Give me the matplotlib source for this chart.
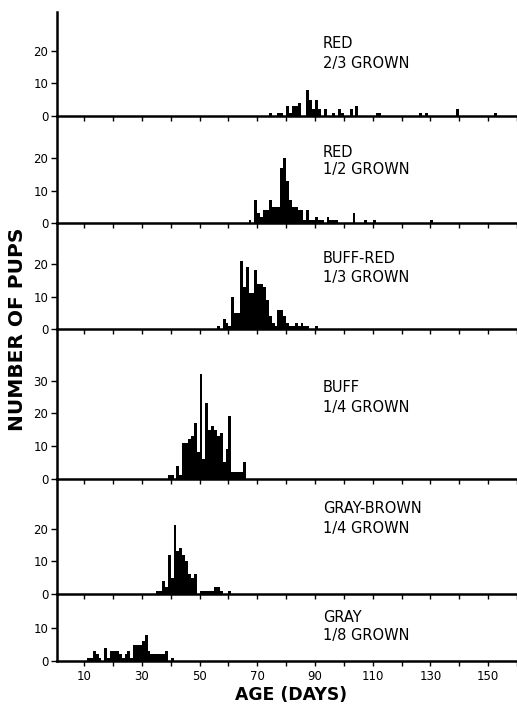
import matplotlib
matplotlib.use('Agg')
import matplotlib.pyplot as plt

plt.rcParams['font.family'] = ['DejaVu Sans']

# ---- data (age in days -> number of pups) ----
red23_days = [74, 77, 78, 80, 81, 82, 83, 84, 87, 88, 89, 90, 91, 93, 96, 98, 99, 102, 104, 111, 112, 126, 128, 139, 152]
red23_counts = [1, 1, 1, 3, 1, 3, 3, 4, 8, 5, 2, 5, 2, 2, 1, 2, 1, 2, 3, 1, 1, 1, 1, 2, 1]

red12_days = [67, 69, 70, 71, 72, 73, 74, 75, 76, 77, 78, 79, 80, 81, 82, 83, 84, 85, 86, 87, 88, 89, 90, 91, 92,
              94, 95, 96, 97, 103, 107, 110, 130]
red12_counts = [1, 7, 3, 2, 4, 4, 7, 5, 5, 5, 17, 20, 13, 7, 5, 5, 4, 4, 1, 4, 1, 1, 2, 1, 1,
                2, 1, 1, 1, 3, 1, 1, 1]

buffred_days = [56, 58, 59, 60, 61, 62, 63, 64, 65, 66, 67, 68, 69, 70, 71, 72, 73, 74, 75, 76, 77, 78, 79, 80,
                81, 82, 83, 84, 85, 86, 87, 90]
buffred_counts = [1, 3, 2, 1, 10, 5, 5, 21, 13, 19, 11, 11, 18, 14, 14, 13, 9, 4, 2, 1, 6, 6, 4, 2,
                  1, 1, 2, 1, 2, 1, 1, 1]

buff_days = [39, 40, 42, 43, 44, 45, 46, 47, 48, 49, 50, 51, 52, 53, 54, 55, 56, 57, 58, 59, 60, 61, 62, 63, 64, 65]
buff_counts = [1, 1, 4, 1, 11, 11, 12, 13, 17, 8, 32, 6, 23, 15, 16, 15, 13, 14, 5, 9, 19, 2, 2, 2, 2, 5]

graybrown_days = [35, 36, 37, 38, 39, 40, 41, 42, 43, 44, 45, 46, 47, 48, 50, 51, 52, 53, 54, 55, 56, 57, 60]
graybrown_counts = [1, 1, 4, 2, 12, 5, 21, 13, 14, 12, 10, 6, 5, 6, 1, 1, 1, 1, 1, 2, 2, 1, 1]

gray_days = [11, 12, 13, 14, 15, 17, 18, 19, 20, 21, 22, 23, 24, 25, 26, 27, 28, 29, 30, 31, 32, 33, 34, 35, 36,
             37, 38, 40]
gray_counts = [1, 1, 3, 2, 1, 4, 1, 3, 3, 3, 2, 1, 2, 3, 1, 5, 5, 5, 6, 8, 3, 2, 2, 2, 2,
               2, 3, 1]

color_names = ["RED", "RED", "BUFF-RED", "BUFF", "GRAY-BROWN", "GRAY"]
size_names = ["2/3 GROWN", "1/2 GROWN", "1/3 GROWN", "1/4 GROWN", "1/4 GROWN", "1/8 GROWN"]
x_ticks = list(range(10, 161, 10))
x_tick_labels = [str(t) if (t // 10) % 2 == 1 else "" for t in x_ticks]

series = [(red23_days, red23_counts), (red12_days, red12_counts), (buffred_days, buffred_counts),
          (buff_days, buff_counts), (graybrown_days, graybrown_counts), (gray_days, gray_counts)]

# ---- layout (pixels of a 517x704 image) ----
W, H = 517, 704
panel_px = [104.3, 107.3, 106.0, 149.3, 115.4, 67.0]
px_per_unit = 3.27
yticks_list = [[0, 10, 20], [0, 10, 20], [0, 10, 20], [0, 10, 20, 30], [0, 10, 20], [0, 10]]
label_baselines = [(48, 68), (157, 174), (263, 282), (392, 412), (513, 533), (622, 640)]

fig = plt.figure(figsize=(W / 100, H / 100), dpi=100)
gs = fig.add_gridspec(6, 1, height_ratios=panel_px, hspace=0,
                      left=56.7 / W, right=1.0, top=1 - 11.7 / H, bottom=1 - 661 / H)

for i, (days, counts) in enumerate(series):
    ax = fig.add_subplot(gs[i])
    ax.patch.set_visible(False)
    ax.bar(days, counts, width=1.0, align='edge', color='black', linewidth=0)
    ax.set_xlim(0.5, 160)
    ax.set_ylim(0, panel_px[i] / px_per_unit)
    ax.set_yticks(yticks_list[i])
    ax.set_xticks(x_ticks)
    if i == 5:
        ax.set_xticklabels(x_tick_labels)
    else:
        ax.set_xticklabels([])
    for s in ['top', 'right']:
        ax.spines[s].set_visible(False)
    ax.spines['left'].set_linewidth(1.8)
    ax.spines['bottom'].set_linewidth(1.8)
    ax.tick_params(axis='both', direction='out', width=1.0, labelsize=8.5, colors='black')
    ax.tick_params(axis='y', length=4.5, pad=1.5)
    ax.tick_params(axis='x', length=3.5, pad=3)
    b1, b2 = label_baselines[i]
    fig.text(322.7 / W, 1 - b1 / H, color_names[i], fontsize=10.5, va='baseline', ha='left')
    fig.text(322.7 / W, 1 - b2 / H, size_names[i], fontsize=10.5, va='baseline', ha='left')

fig.text(18 / W, 1 - 329 / H, "NUMBER OF PUPS", rotation=90, fontsize=14.5, fontweight='bold',
         ha='center', va='center')
fig.text(291.5 / W, 1 - 700.5 / H, "AGE (DAYS)", fontsize=12.4, fontweight='bold',
         ha='center', va='baseline')

fig.savefig("out.png", dpi=100)
